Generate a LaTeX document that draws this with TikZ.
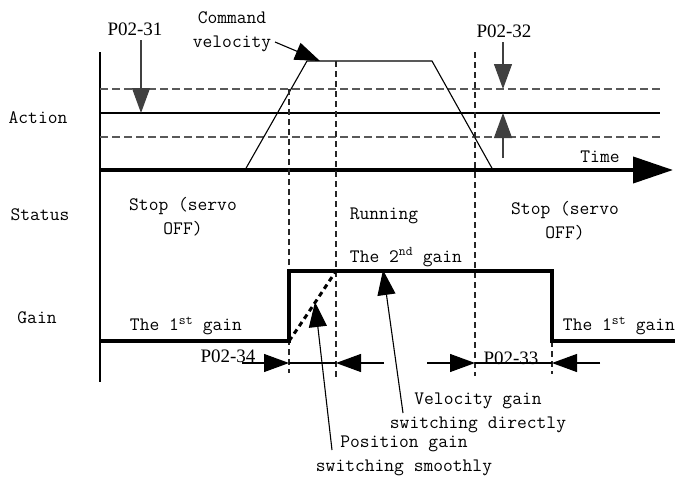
\documentclass[tikz,border=0pt]{standalone}
\usepackage{fontspec}
\setmainfont{Liberation Serif}
\usetikzlibrary{arrows.meta}

\tikzset{
  bigtip/.style={-{Triangle[length=25pt,width=18pt]}},
  guide/.style={dash pattern=on 8pt off 4pt, black!65},
  vguide/.style={dash pattern=on 6pt off 4pt, black!85},
  mono/.style={font=\fontsize{19}{24}\selectfont\ttfamily},
  par/.style={font=\fontsize{19}{22}\selectfont},
  gainline/.style={line width=4pt, line join=miter},
}

\begin{document}
\begin{tikzpicture}[x=1pt,y=-1pt,line width=1.1pt]
\useasboundingbox (0,0) rectangle (680,479);

% axes
\coordinate (ytop) at (100,52);
\coordinate (ybot) at (100,382);
\coordinate (t0) at (100,170);
\coordinate (tend) at (673,170);
\draw (ytop) -- (ybot);
\draw[line width=4pt,-{Triangle[length=40pt,width=26pt]}] (t0) -- (tend);

% velocity window
\draw[guide] (100,89) -- (660,89);
\draw (100,113) -- (660,113);
\draw[guide] (100,137) -- (660,137);

% command velocity
\draw (245,170) -- (307,61) -- (432,61) -- (493,170);

% switching instants
\draw[vguide] (289,89) -- (289,373);
\draw[vguide] (336,61) -- (336,378);
\draw[vguide] (475,52) -- (475,376);
\draw[vguide] (552,341) -- (552,374);

% gain
\draw[gainline] (100,341) -- (289,341) -- (289,271) -- (552,271) -- (552,341) -- (675,341);
\draw[line width=3pt, dash pattern=on 5pt off 4pt] (289,341) .. controls (305,318) and (322,292) .. (336,271);

% labels
\node[mono] (action) at (38,118) {Action};
\node[mono] (status) at (40,215) {Status};
\node[mono] (gain) at (37,318) {Gain};
\node[mono] (time) at (600,157) {Time};
\node[mono, align=center] (stopl) at (183,217) {Stop (servo\\OFF)};
\node[mono] (run) at (384,216) {Running};
\node[mono, align=center] (stopr) at (565,221) {Stop (servo\\OFF)};
\node[mono] (second) at (406,257) {The 2\textsuperscript{nd} gain};
\node[mono] (firstl) at (186,326) {The 1\textsuperscript{st} gain};
\node[mono] (firstr) at (619,326) {The 1\textsuperscript{st} gain};
\node[mono, align=center] (cmd) at (232,32) {Command\\velocity};
\node[mono, align=center] (velg) at (478,413) {Velocity gain\\switching directly};
\node[mono, align=center] (posg) at (404,456) {Position gain\\switching smoothly};

\node[par] (p31) at (135,29) {P02-31};
\node[par] (p32) at (504,31) {P02-32};
\node[par] (p34) at (228,356) {P02-34};
\node[par] (p33) at (511,358) {P02-33};

% parameter arrows
\coordinate (a31) at (141,113);
\coordinate (a32a) at (503,89);
\coordinate (a32b) at (503,113);
\coordinate (cmdtip) at (320,61);
\draw[bigtip, black!75] (141,40) -- (a31);
\draw[bigtip, black!75] (503,42) -- (a32a);
\draw[bigtip, black!75] (503,158) -- (a32b);
\draw[bigtip] (275,42) -- (cmdtip);

% delay arrows
\coordinate (d34a) at (289,363);
\coordinate (d34b) at (336,363);
\coordinate (d33a) at (475,363);
\coordinate (d33b) at (552,363);
\draw[bigtip] (242,363) -- (d34a);
\draw (d34a) -- (d34b);
\draw[bigtip] (384,363) -- (d34b);
\draw[bigtip] (427,363) -- (d33a);
\draw (d33a) -- (d33b);
\draw[bigtip] (600,363) -- (d33b);

% callouts
\coordinate (veltip) at (383,270);
\coordinate (postip) at (315,302);
\draw[bigtip] (403,413) -- (veltip);
\draw[bigtip] (332,450) -- (postip);
\end{tikzpicture}
\end{document}
